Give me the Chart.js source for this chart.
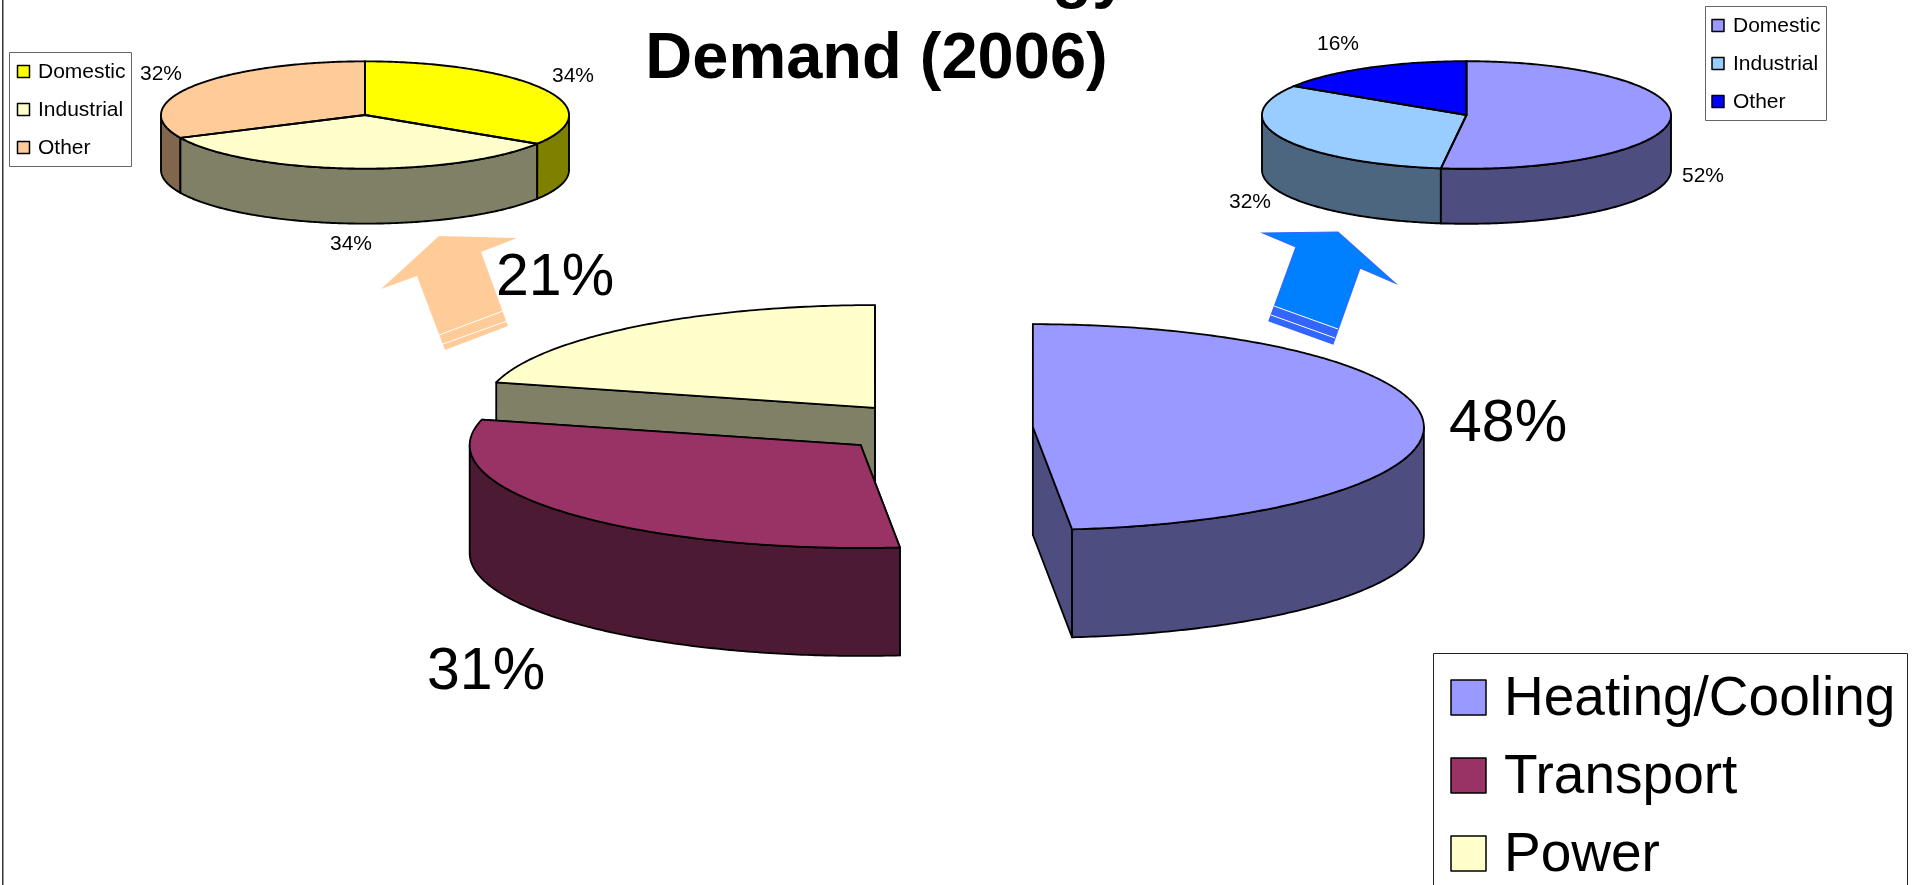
<!DOCTYPE html>
<html>
<head>
<meta charset="utf-8">
<title>Energy Demand (2006)</title>
<style>
html,body{margin:0;padding:0;background:#fff;overflow:hidden}
canvas{position:absolute;left:0;top:0}
</style>
<script src="https://cdn.jsdelivr.net/npm/chart.js@4/dist/chart.umd.min.js"></script>
</head>
<body>
<canvas id="powerPie" width="1912" height="885"></canvas>
<canvas id="heatPie" width="1912" height="885"></canvas>
<canvas id="mainPie" width="1912" height="885"></canvas>
<script>
// ---- data ----
const titleLines = ["Ireland's Energy", "Demand (2006)"];
const mainCategories = ["Heating/Cooling", "Transport", "Power"];
const mainValues = [48.4, 30.6, 21.0];
const heatCategories = ["Domestic", "Industrial", "Other"];
const heatValues = [52, 32, 16];
const powerCategories = ["Domestic", "Industrial", "Other"];
const powerValues = [34, 34, 32];

// ---- styles ----
const mainTop = ["#9999FF", "#993366", "#FFFFCC"];
const mainSide = ["#4D4D80", "#4D1A33", "#808066"];
const heatTop = ["#9999FF", "#99CCFF", "#0000FF"];
const heatSide = ["#4D4D80", "#4D6680", "#000080"];
const powerTop = ["#FFFF00", "#FFFFCC", "#FFCC99"];
const powerSide = ["#808000", "#808066", "#80664D"];
const FONT = '"Liberation Sans", Arial, sans-serif';
const K = 0.263;

function poly(ctx, pts, close) {
  ctx.beginPath();
  pts.forEach((p, i) => i ? ctx.lineTo(p[0], p[1]) : ctx.moveTo(p[0], p[1]));
  if (close) ctx.closePath();
}
function arcPoints(fn, a, b) {
  const n = Math.max(2, Math.ceil(Math.abs(b - a) / 0.012));
  const out = [];
  for (let i = 0; i <= n; i++) out.push(fn(a + (b - a) * i / n));
  return out;
}
function geometry(el, o) {
  const mid = (el.startAngle + el.endAngle) / 2;
  const ox = Math.cos(mid) * o.explode, oy = Math.sin(mid) * o.explode;
  const r = el.outerRadius;
  return {
    ox, oy,
    apex: d => [o.cx + ox, o.cy + o.k * oy + d],
    rim: (a, d) => [o.cx + ox + r * Math.cos(a), o.cy + o.k * (oy + r * Math.sin(a)) + d]
  };
}

// Gives the library's arcs a flattened view, an exploded position and an extruded side.
const pie3d = {
  id: 'pie3d',
  beforeDatasetsDraw(chart, args, o) {
    const ctx = chart.ctx, arcs = chart.getDatasetMeta(0).data;
    ctx.lineWidth = o.line; ctx.strokeStyle = '#000'; ctx.lineJoin = 'round';
    const order = arcs.map((_, i) => arcs.length - 1 - i);
    order.forEach(i => {           // straight cut walls
      const el = arcs[i], g = geometry(el, o);
      [el.startAngle, el.endAngle].forEach(a => {
        poly(ctx, [g.apex(0), g.rim(a, 0), g.rim(a, o.depth), g.apex(o.depth)], true);
        ctx.fillStyle = o.sides[i]; ctx.fill(); ctx.stroke();
      });
    });
    order.forEach(i => {           // curved walls
      const el = arcs[i], g = geometry(el, o);
      const lo = Math.max(el.startAngle, 0), hi = Math.min(el.endAngle, Math.PI);
      if (hi <= lo) return;
      const pts = arcPoints(a => g.rim(a, 0), lo, hi).concat(arcPoints(a => g.rim(a, o.depth), hi, lo));
      poly(ctx, pts, true);
      ctx.fillStyle = o.sides[i]; ctx.fill(); ctx.stroke();
    });
    const ax = (chart.chartArea.left + chart.chartArea.right) / 2;
    const ay = (chart.chartArea.top + chart.chartArea.bottom) / 2;
    arcs.forEach(el => {
      const g = geometry(el, o);
      el.x = ax + g.ox; el.y = ay + g.oy;
    });
    ctx.save();
    ctx.translate(o.cx, o.cy); ctx.scale(1, o.k); ctx.translate(-ax, -ay);
  },
  afterDatasetsDraw(chart, args, o) {
    const ctx = chart.ctx, arcs = chart.getDatasetMeta(0).data;
    ctx.restore();
    ctx.lineWidth = o.line; ctx.strokeStyle = '#000'; ctx.lineJoin = 'round';
    arcs.forEach(el => {
      const g = geometry(el, o);
      poly(ctx, [g.apex(0)].concat(arcPoints(a => g.rim(a, 0), el.startAngle, el.endAngle)), true);
      ctx.stroke();
    });
  }
};

function legendBox(ctx, b, names, colors) {
  ctx.fillStyle = '#fff'; ctx.fillRect(b.x, b.y, b.w, b.h);
  ctx.strokeStyle = b.border; ctx.lineWidth = b.bw; ctx.strokeRect(b.x + .5, b.y + .5, b.w, b.h);
  ctx.font = b.size + 'px ' + FONT; ctx.textBaseline = 'alphabetic'; ctx.textAlign = 'left';
  names.forEach((n, i) => {
    ctx.fillStyle = colors[i];
    ctx.fillRect(b.sx, b.sy[i], b.ss, b.ss);
    ctx.strokeStyle = '#000'; ctx.lineWidth = b.sw;
    ctx.strokeRect(b.sx, b.sy[i], b.ss, b.ss);
    ctx.fillStyle = '#000';
    ctx.fillText(n, b.tx, b.ty[i]);
  });
}
function percentLabels(ctx, values, pos, size) {
  ctx.font = size + 'px ' + FONT; ctx.fillStyle = '#000'; ctx.textAlign = 'left'; ctx.textBaseline = 'alphabetic';
  values.forEach((v, i) => ctx.fillText(Math.round(v) + '%', pos[i][0], pos[i][1]));
}
function arrow(ctx, shape, stripes, fill, band, border) {
  poly(ctx, shape, true); ctx.fillStyle = fill; ctx.fill();
  if (band) { poly(ctx, band, true); ctx.fillStyle = border; ctx.fill(); }
  if (border) { poly(ctx, shape, true); ctx.strokeStyle = border; ctx.lineWidth = 1.2; ctx.stroke(); }
  ctx.strokeStyle = '#ffffff'; ctx.lineWidth = 1;
  stripes.forEach(s => { poly(ctx, s, false); ctx.stroke(); });
}

function pieChart(id, labels, values, top, side, cfg, under, over) {
  return new Chart(document.getElementById(id), {
    type: 'pie',
    data: { labels, datasets: [{
      data: values, backgroundColor: top, borderWidth: 0, hoverOffset: 0,
      radius: cfg.rx, clip: false
    }]},
    options: {
      responsive: false, animation: false, radius: cfg.rx, events: [],
      layout: { padding: 0 },
      plugins: {
        legend: { display: false }, tooltip: { enabled: false },
        pie3d: { cx: cfg.cx, cy: cfg.cy, k: K, explode: cfg.explode, depth: cfg.depth, sides: side, line: cfg.line }
      }
    },
    plugins: [{ id: 'decorUnder', beforeDatasetsDraw(c) { if (under) under(c.ctx); } }, pie3d,
              { id: 'decorOver', afterDraw(c) { if (over) over(c.ctx); } }]
  });
}

pieChart('powerPie', powerCategories, powerValues, powerTop, powerSide,
  { cx: 365, cy: 115, rx: 204, depth: 55, explode: 0, line: 1.9 },
  ctx => {
    ctx.fillStyle = '#333'; ctx.fillRect(2, 0, 1.5, 885);
    ctx.font = 'bold 65px ' + FONT; ctx.fillStyle = '#000'; ctx.textAlign = 'center'; ctx.textBaseline = 'alphabetic';
    ctx.fillText(titleLines[0], 876.5, -4);
    ctx.fillText(titleLines[1], 876.5, 78);
    arrow(ctx,
      [[439,236],[517,238],[481,252],[508,326],[445,350],[417,276],[381,289]],
      [[[439,335],[503,311]], [[443,344],[507,321]]], '#FFCC99');
  },
  ctx => {
    legendBox(ctx, { x: 9, y: 52, w: 122, h: 114, border: '#666', bw: 1, size: 21, sx: 17.5, ss: 12, sw: 1.5,
      sy: [65.5, 103.5, 141.5], tx: 38, ty: [78, 116, 154] }, powerCategories, powerTop);
    percentLabels(ctx, powerValues, [[552, 82], [330, 250], [140, 80]], 21);
  });

pieChart('heatPie', heatCategories, heatValues, heatTop, heatSide,
  { cx: 1466.5, cy: 115, rx: 204.5, depth: 55, explode: 0, line: 1.9 },
  ctx => {
    arrow(ctx,
      [[1263,233],[1338,232],[1395,283],[1360,268],[1333,344],[1269,321],[1296,247]],
      [[[1274,306],[1338,329]], [[1271,315],[1335,338]]], '#0080FF',
      [[1274,306],[1338,329],[1333,344],[1269,321]], '#3366FF');
  },
  ctx => {
    legendBox(ctx, { x: 1705, y: 6, w: 121, h: 114, border: '#666', bw: 1, size: 21, sx: 1712, ss: 12, sw: 1.5,
      sy: [19.5, 57.5, 95.5], tx: 1733, ty: [32, 70, 108] }, heatCategories, heatTop);
    percentLabels(ctx, heatValues, [[1682, 182], [1229, 208], [1317, 50]], 21);
  });

pieChart('mainPie', mainCategories, mainValues, mainTop, mainSide,
  { cx: 935, cy: 428.3, rx: 391, depth: 108, explode: 98, line: 1.8 },
  null,
  ctx => {
    percentLabels(ctx, mainValues, [[1449, 441], [427, 689], [496, 295]], 59);
    legendBox(ctx, { x: 1433, y: 653, w: 474, h: 300, border: '#222', bw: 1, size: 55, sx: 1451, ss: 35, sw: 1.5,
      sy: [680, 758, 836], tx: 1504, ty: [715, 793, 871] }, mainCategories, mainTop);
  });
</script>
</body>
</html>
